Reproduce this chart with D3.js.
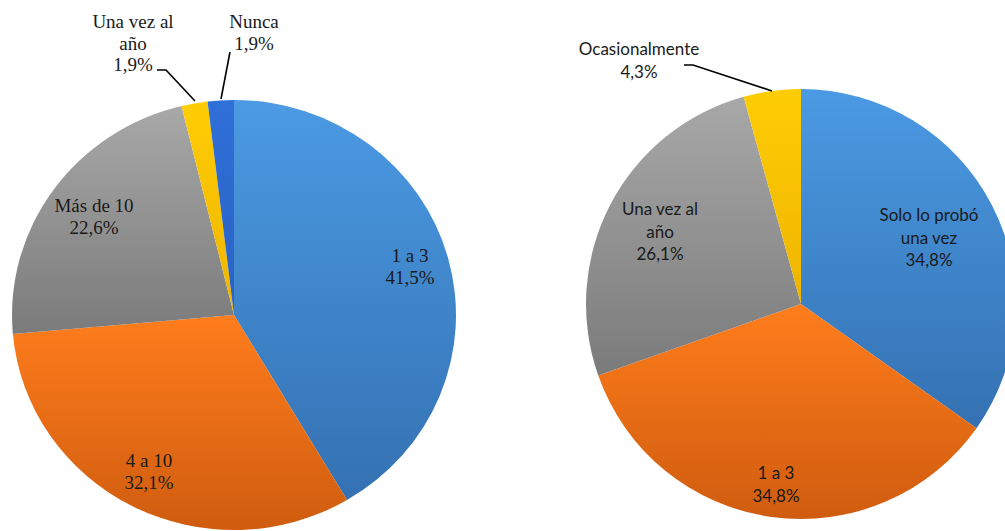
<!DOCTYPE html>
<html lang="es">
<head>
    <meta charset="UTF-8">
    <title>Frecuencia de consumo</title>
    <script src="https://d3js.org/d3.v7.min.js"></script>
    <style>
        body {
            margin: 0;
            background-color: #ffffff;
            overflow: hidden;
        }
    </style>
</head>
<body>
    <div id="chart"></div>

    <script>
        // Left pie: frecuencia
        const leftCategories = ["1 a 3", "4 a 10", "Más de 10", "Una vez al año", "Nunca"];
        const leftValues = [41.5, 32.1, 22.6, 1.9, 1.9];
        const leftLabels = [["1 a 3", "41,5%"], ["4 a 10", "32,1%"], ["Más de 10", "22,6%"],
                            ["Una vez al", "año", "1,9%"], ["Nunca", "1,9%"]];

        // Right pie
        const rightCategories = ["Solo lo probó una vez", "1 a 3", "Una vez al año", "Ocasionalmente"];
        const rightValues = [34.8, 34.8, 26.1, 4.3];
        const rightLabels = [["Solo lo probó", "una vez", "34,8%"], ["1 a 3", "34,8%"],
                             ["Una vez al", "año", "26,1%"], ["Ocasionalmente", "4,3%"]];

        const width = 1005;
        const height = 531;

        // gradient colours per slice (top, bottom)
        const palette = {
            blue:   ["#4b9ae3", "#3471b2"],
            orange: ["#ff7d1c", "#cf5c0f"],
            gray:   ["#a8a8a8", "#7b7b7b"],
            yellow: ["#ffcd05", "#eeb400"],
            navy:   ["#2f6fd8", "#2a62c4"]
        };

        const svg = d3.select("#chart")
            .append("svg")
            .attr("width", width)
            .attr("height", height);

        const defs = svg.append("defs");
        Object.entries(palette).forEach(([name, c]) => {
            const g = defs.append("linearGradient")
                .attr("id", "grad-" + name)
                .attr("x1", 0).attr("y1", 0)
                .attr("x2", 0).attr("y2", 1);
            g.append("stop").attr("offset", "0%").attr("stop-color", c[0]);
            g.append("stop").attr("offset", "100%").attr("stop-color", c[1]);
        });

        function drawPie(opts) {
            const g = svg.append("g")
                .attr("transform", `translate(${opts.cx},${opts.cy})`);

            const pie = d3.pie().sort(null).value(d => d);
            const arcs = pie(opts.values);
            const arc = d3.arc().innerRadius(0).outerRadius(opts.r);

            const color = d3.scaleOrdinal()
                .domain(opts.categories)
                .range(opts.colors);

            const slices = g.append("g")
                .attr("transform", `scale(1, ${opts.ry / opts.r})`);

            slices.selectAll("path")
                .data(arcs)
                .join("path")
                .attr("d", arc)
                .attr("fill", (d, i) => `url(#grad-${color(opts.categories[i])})`);

            // labels
            opts.labelPos.forEach((p, i) => {
                const t = g.append("text")
                    .attr("text-anchor", "middle")
                    .style("font-family", opts.font)
                    .style("font-size", opts.fontSize + "px")
                    .attr("fill", "#1a1a1a");
                opts.labels[i].forEach((line, j) => {
                    t.append("tspan")
                        .attr("x", p[0] - opts.cx)
                        .attr("y", p[1] - opts.cy + j * opts.lineH)
                        .text(line);
                });
            });

            // leader lines
            opts.leaders.forEach(pts => {
                g.append("path")
                    .attr("d", d3.line()(pts.map(q => [q[0] - opts.cx, q[1] - opts.cy])))
                    .attr("fill", "none")
                    .attr("stroke", "#000")
                    .attr("stroke-width", 1.6);
            });
        }

        drawPie({
            cx: 234, cy: 315, r: 222, ry: 215,
            categories: leftCategories,
            values: leftValues,
            labels: leftLabels,
            colors: ["blue", "orange", "gray", "yellow", "navy"],
            font: '"Liberation Serif"',
            fontSize: 19,
            lineH: 21.5,
            labelPos: [[410, 262], [149, 467], [94, 212], [133, 28], [254, 28]],
            leaders: [
                [[157, 70], [166, 70], [195, 101]],
                [[230, 52], [221, 99]]
            ]
        });

        drawPie({
            cx: 801, cy: 304, r: 215, ry: 215,
            categories: rightCategories,
            values: rightValues,
            labels: rightLabels,
            colors: ["blue", "orange", "gray", "yellow"],
            font: '"Lato"',
            fontSize: 17,
            lineH: 22.5,
            labelPos: [[929, 221], [776, 479], [660, 215], [639, 55]],
            leaders: [
                [[684, 65], [693, 65], [772, 91]]
            ]
        });
    </script>
</body>
</html>
